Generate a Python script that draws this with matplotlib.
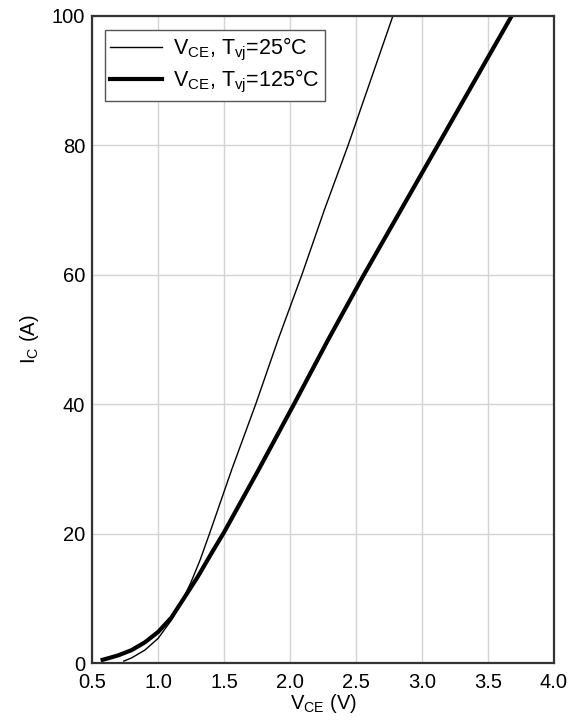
import matplotlib
matplotlib.use('Agg')
import matplotlib.pyplot as plt

plt.rcParams['font.family'] = ['Liberation Sans', 'DejaVu Sans']
plt.rcParams['mathtext.fontset'] = 'custom'
plt.rcParams['mathtext.rm'] = 'Liberation Sans'
plt.rcParams['mathtext.it'] = 'Liberation Sans'

# output characteristic, Tvj = 25 C
vce_25 = [0.74, 0.80, 0.90, 1.00, 1.10, 1.18, 1.25, 1.32, 1.39, 1.56,
          1.74, 1.91, 2.09, 2.26, 2.44, 2.61, 2.78]
ic_25 = [0.3, 0.8, 2.0, 3.8, 6.6, 9.5, 12.5, 16, 20, 30,
         40, 50, 60, 70, 80, 90, 100]

# output characteristic, Tvj = 125 C
vce_125 = [0.58, 0.65, 0.70, 0.80, 0.90, 1.00, 1.10, 1.18, 1.30, 1.40,
           1.50, 1.76, 2.03, 2.29, 2.56, 2.84, 3.12, 3.40, 3.68]
ic_125 = [0.5, 0.9, 1.2, 2.0, 3.2, 4.8, 7.0, 9.5, 13.3, 16.8,
          20.2, 29.8, 40, 50, 60, 70, 80, 90, 100]

xticks = [0.5, 1.0, 1.5, 2.0, 2.5, 3.0, 3.5, 4.0]
yticks = [0, 20, 40, 60, 80, 100]

fig = plt.figure(figsize=(5.83, 7.27), dpi=100)
ax = fig.add_axes([0.158, 0.088, 0.792, 0.890])

ax.plot(vce_25, ic_25, color='black', lw=1.0, solid_joinstyle='round',
        label=r'$\mathregular{V_{CE}}$, $\mathregular{T_{vj}}$=25°C')
ax.plot(vce_125, ic_125, color='black', lw=3.0, solid_joinstyle='round',
        label=r'$\mathregular{V_{CE}}$, $\mathregular{T_{vj}}$=125°C')

ax.set_xlim(0.5, 4.0)
ax.set_ylim(0, 100)
ax.set_xticks(xticks)
ax.set_xticklabels(['%.1f' % t for t in xticks])
ax.set_yticks(yticks)
ax.tick_params(length=0, labelsize=14.5, colors='black')
ax.tick_params(axis='x', pad=7)
ax.tick_params(axis='y', pad=5)
ax.grid(True, color='#d4d4d4', lw=1.0)
ax.set_axisbelow(True)
for s in ax.spines.values():
    s.set_color('#333333')
    s.set_linewidth(1.6)

ax.set_xlabel(r'$\mathregular{V_{CE}}$ (V)', fontsize=14.5, labelpad=0)
ax.set_ylabel(r'$\mathregular{I_{C}}$ (A)', fontsize=14.5, labelpad=8)

leg = ax.legend(loc='upper left', fontsize=15.5, fancybox=False,
                framealpha=1, edgecolor='#555555',
                bbox_to_anchor=(0.028, 0.978),
                handlelength=2.4, handletextpad=0.5, borderpad=0.25,
                borderaxespad=0.0, labelspacing=0.25)
leg.get_frame().set_linewidth(1.0)

fig.savefig('out.png', dpi=100)
